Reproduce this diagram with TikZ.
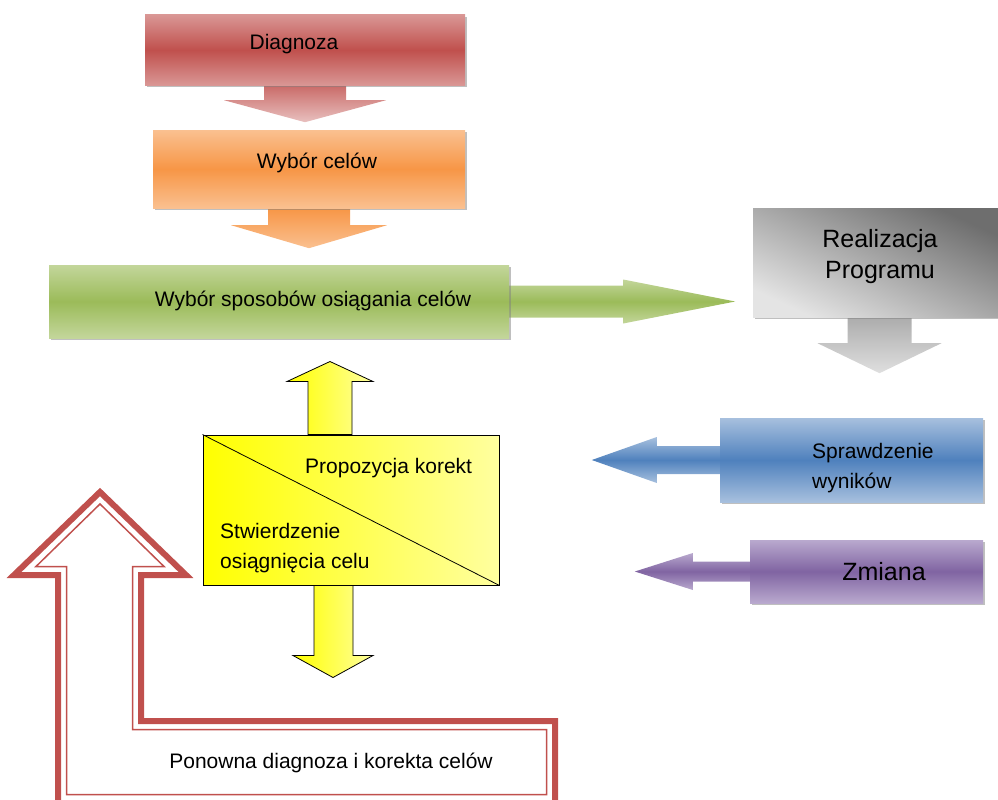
\documentclass[tikz,border=0pt]{standalone}
\usepackage{fontspec}
\setmainfont{Liberation Sans}
\usetikzlibrary{shadows,backgrounds}

\definecolor{redtop}{HTML}{D99694}
\definecolor{redmid}{HTML}{C0504D}
\definecolor{orangetop}{HTML}{FAC090}
\definecolor{orangemid}{HTML}{F79646}
\definecolor{greentop}{HTML}{C3D69B}
\definecolor{greenmid}{HTML}{9BBB59}
\definecolor{bluetop}{HTML}{A7C0DE}
\definecolor{bluemid}{HTML}{4F81BD}
\definecolor{purpletop}{HTML}{B9A9CE}
\definecolor{purplemid}{HTML}{8064A2}
\definecolor{graydark}{HTML}{6E6E6E}
\definecolor{graylight}{HTML}{E4E4E4}
\definecolor{yellowpale}{HTML}{FFFF9F}

\begin{document}
\begin{tikzpicture}[x=1pt,y=-1pt,
		block/.style={rectangle,inner sep=0pt,drop shadow={shadow xshift=2pt,shadow yshift=-2pt,opacity=0.5}},
		txt/.style={anchor=base,inner sep=0pt,font=\fontsize{21}{30}\selectfont},
		bigtxt/.style={anchor=base,inner sep=0pt,font=\fontsize{25}{31}\selectfont}]
		\useasboundingbox (0,0) rectangle (998,800);

		\node[block,minimum width=320pt,minimum height=70pt,top color=redtop,bottom color=redtop,middle color=redmid] (diag) at (305,50) {};
		\node[block,minimum width=312pt,minimum height=78pt,top color=orangetop,bottom color=orangetop,middle color=orangemid] (celow) at (309,169) {};
		\node[block,minimum width=460pt,minimum height=73pt,top color=greentop,bottom color=greentop,middle color=greenmid] (sposob) at (279,301.5) {};
		\node[block,minimum width=245pt,minimum height=109pt,top color=graydark,bottom color=graylight,shading angle=-25] (prog) at (875.5,262.5) {};
		\node[block,minimum width=263pt,minimum height=84pt,top color=bluetop,bottom color=bluetop,middle color=bluemid] (spraw) at (851.5,460) {};
		\node[block,minimum width=233pt,minimum height=63pt,top color=purpletop,bottom color=purpletop,middle color=purplemid] (zmiana) at (866.5,571.5) {};
		\node[rectangle,inner sep=0pt,minimum width=296pt,minimum height=150pt,left color=yellow,right color=yellowpale,draw=black,line width=1pt] (ocena) at (351,510) {};
		\draw[black,line width=0.8pt] (ocena.north west) -- (ocena.south east);

		\begin{scope}[on background layer]
			\shade[top color=redmid!85!white,bottom color=redtop!60!white] ([xshift=-41pt]diag.south) -- ++(0,15) -- ++(-40,0) -- ++(81,22) -- ++(81,-22) -- ++(-40,0) -- ++(0,-15) -- cycle;
			\shade[top color=orangemid,bottom color=orangetop] ([xshift=-41pt]celow.south) -- ++(0,17) -- ++(-37,0) -- ++(78,23) -- ++(78,-23) -- ++(-37,0) -- ++(0,-17) -- cycle;
			\shade[top color=greentop,bottom color=greentop,middle color=greenmid] ([yshift=16pt]sposob.east) -- ++(114,0) -- ++(0,-6) -- ++(112,22) -- ++(-112,22) -- ++(0,-6) -- ++(-114,0) -- cycle;
			\shade[top color=gray!65,bottom color=gray!25] ([xshift=-28pt]prog.south) -- ++(0,26) -- ++(-30,0) -- ++(62,30) -- ++(62,-30) -- ++(-30,0) -- ++(0,-26) -- cycle;
			\shade[top color=bluetop,bottom color=bluetop,middle color=bluemid] ([yshift=14pt]spraw.west) -- ++(-63,0) -- ++(0,-9) -- ++(-65,23) -- ++(65,23) -- ++(0,-9) -- ++(63,0) -- cycle;
			\shade[top color=purpletop,bottom color=purpletop,middle color=purplemid] ([yshift=10pt]zmiana.west) -- ++(-57,0) -- ++(0,-8.5) -- ++(-58,18.5) -- ++(58,18.5) -- ++(0,-8.5) -- ++(57,0) -- cycle;
			\shade[left color=yellow,right color=yellowpale,draw=black,line width=0.8pt] ([xshift=-43pt]ocena.north) -- ++(0,-53) -- ++(-21,0) -- ++(43,-20) -- ++(43,20) -- ++(-21,0) -- ++(0,53) -- cycle;
			\shade[left color=yellow,right color=yellowpale,draw=black,line width=0.8pt] ([xshift=-37pt]ocena.south) -- ++(0,70) -- ++(-21,0) -- ++(40,22) -- ++(40,-22) -- ++(-20,0) -- ++(0,-70) -- cycle;
		\end{scope}

		\draw[redmid,line width=6pt] (58,803) -- (58,575) -- (14,575) -- (100,492) -- (186,575) -- (141,575) -- (141,721) -- (555,721) -- (555,803) -- cycle;
		\draw[redmid,line width=1.5pt] (66.5,794.5) -- (66.5,566.5) -- (36,566.5) -- (100,504) -- (164,566.5) -- (132.5,566.5) -- (132.5,729.5) -- (546.5,729.5) -- (546.5,794.5) -- cycle;

		\node[txt] (diagtxt) at (294,50) {Diagnoza};
		\node[txt] (celowtxt) at (317,168) {Wybór celów};
		\node[txt] (sposobtxt) at (313,306) {Wybór sposobów osiągania celów};
		\node[bigtxt,align=center] (progtxt) at (880,278) {Realizacja\\Programu};
		\node[txt,anchor=base west,align=left] (sprawtxt) at (812,488) {Sprawdzenie\\wyników};
		\node[bigtxt] (zmianatxt) at (884,580) {Zmiana};
		\node[txt,anchor=base west] (propotxt) at (305,473) {Propozycja korekt};
		\node[txt,anchor=base west,align=left] (stwtxt) at (220,568) {Stwierdzenie\\osiągnięcia celu};
		\node[txt] (ponowtxt) at (331,768) {Ponowna diagnoza i korekta celów};
\end{tikzpicture}
\end{document}
